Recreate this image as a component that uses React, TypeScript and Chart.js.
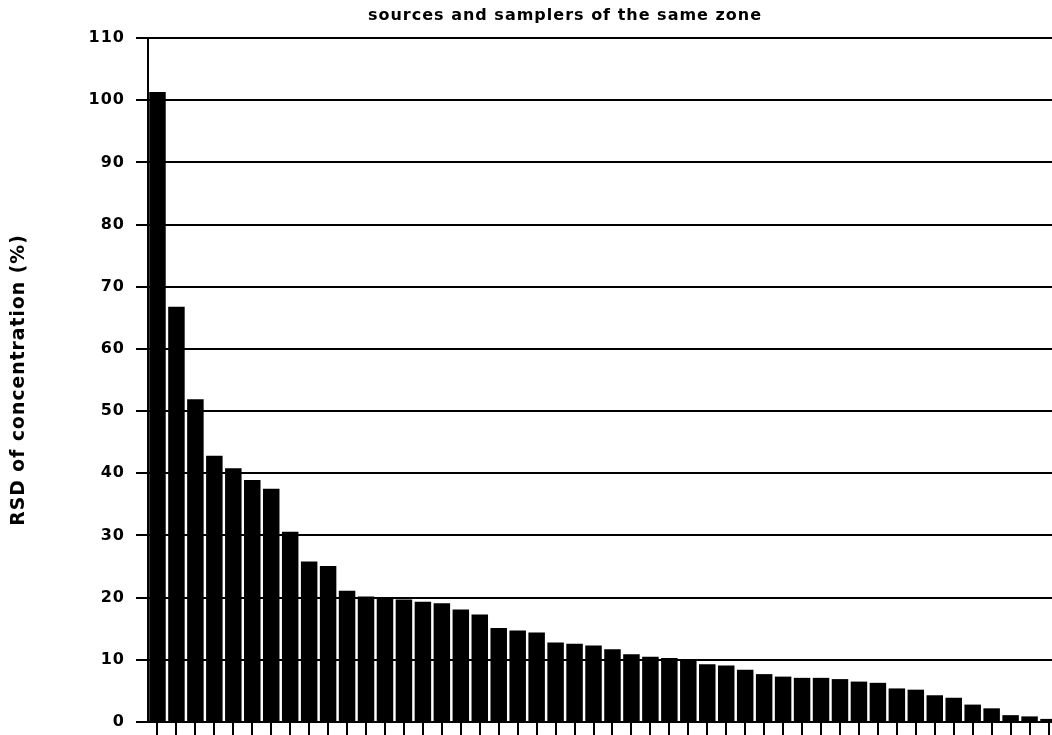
import React, { useEffect, useRef } from "react";
import { Chart, registerables } from "chart.js";

Chart.register(...registerables);

// RSD per source/sampler pair, sorted from largest to smallest
const sampleIds: string[] = Array.from({ length: 48 }, (_, i) => String(i + 1));
const rsdValues: number[] = [
  101.3, 66.8, 51.9, 42.8, 40.8, 38.9, 37.5, 30.6, 25.8, 25.1,
  21.1, 20.2, 20.1, 19.7, 19.35, 19.1, 18.1, 17.3, 15.1, 14.7,
  14.4, 12.8, 12.6, 12.3, 11.7, 10.9, 10.5, 10.3, 10.1, 9.3,
  9.1, 8.4, 7.7, 7.3, 7.1, 7.1, 6.9, 6.5, 6.3, 5.4,
  5.2, 4.3, 3.9, 2.8, 2.2, 1.1, 0.9, 0.5,
];
const yTicks: number[] = [0, 10, 20, 30, 40, 50, 60, 70, 80, 90, 100, 110];

const chartTitle = "sources and samplers of the same zone";
const yTitle = "RSD of concentration (%)";

const FONT = "'DejaVu Sans', 'Liberation Sans', sans-serif";

// plotter-like lettering: slightly wider glyph spacing for all text
const spacingPlugin = {
  id: "letterSpacing",
  beforeDraw(chart: Chart) {
    (chart.ctx as any).letterSpacing = "1px";
  },
};

export default function App() {
  const canvasRef = useRef<HTMLCanvasElement | null>(null);

  useEffect(() => {
    const canvas = canvasRef.current;
    if (!canvas) return;
    const chart = new Chart(canvas, {
      type: "bar",
      data: {
        labels: sampleIds,
        datasets: [
          {
            data: rsdValues,
            backgroundColor: "#000000",
            borderWidth: 0,
            categoryPercentage: 1,
            barPercentage: 0.87,
          },
        ],
      },
      plugins: [spacingPlugin],
      options: {
        animation: false,
        responsive: false,
        devicePixelRatio: 1,
        layout: { padding: { left: 72, right: 2, top: 0, bottom: 0 } },
        plugins: {
          legend: { display: false },
          tooltip: { enabled: false },
          title: {
            display: true,
            text: chartTitle,
            color: "#000000",
            font: { family: FONT, size: 16, weight: "bold" },
            padding: { top: 6.5, bottom: 12.3 },
          },
        },
        scales: {
          x: {
            type: "category",
            ticks: { display: false },
            border: { display: false },
            grid: {
              offset: false,
              drawOnChartArea: false,
              drawTicks: true,
              tickLength: 13,
              color: "#000000",
              lineWidth: 2,
            },
            afterFit(scale: any) {
              scale.height = 13;
            },
          },
          y: {
            min: 0,
            max: 110,
            afterBuildTicks(scale: any) {
              scale.ticks = yTicks.map((v) => ({ value: v }));
            },
            ticks: {
              color: "#000000",
              font: { family: FONT, size: 16, weight: "bold" },
              padding: 11,
            },
            border: { display: true, color: "#000000", width: 2 },
            grid: {
              color: "#000000",
              lineWidth: 2,
              tickLength: 12,
            },
            title: {
              display: true,
              text: yTitle,
              color: "#000000",
              font: { family: FONT, size: 18.8, weight: "bold" },
              padding: { top: -64, bottom: 0 },
            },
            afterFit(scale: any) {
              scale.width = 76;
              // end labels may overhang the plot; keep the plot edges fixed
              scale.paddingTop = 0;
              scale.paddingBottom = 0;
            },
          },
        },
      },
    });
    return () => chart.destroy();
  }, []);

  return (
    <div
      style={{
        position: "absolute",
        left: 0,
        top: 0,
        width: 1052,
        height: 735,
        overflow: "hidden",
        background: "#ffffff",
      }}
    >
      <canvas ref={canvasRef} width={1060} height={735} style={{ display: "block" }} />
    </div>
  );
}
